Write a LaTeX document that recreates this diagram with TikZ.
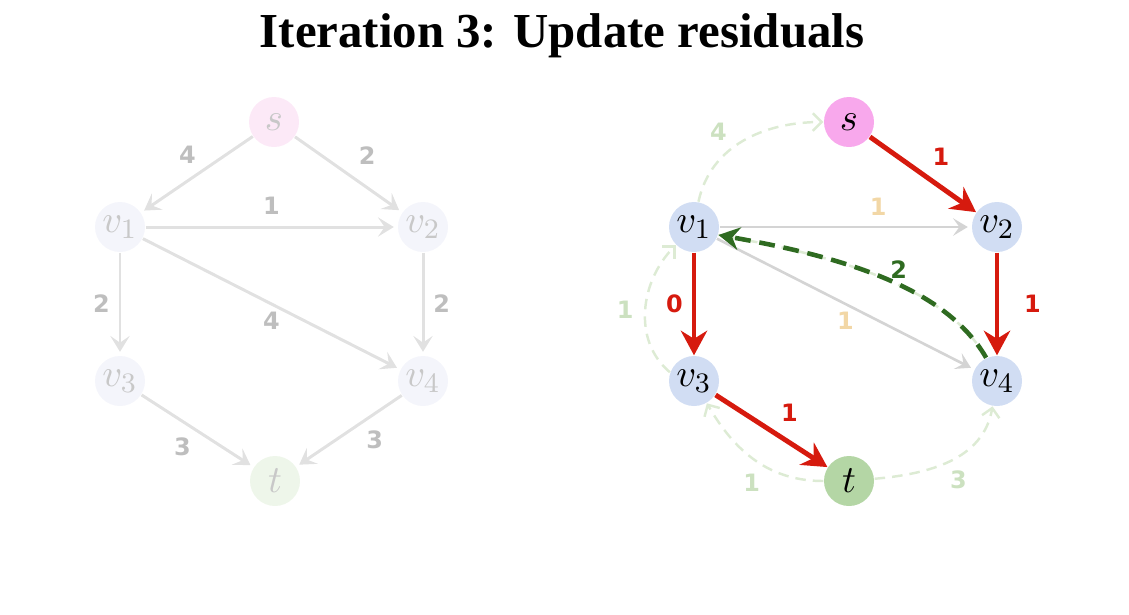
\documentclass[tikz,border=0pt]{standalone}
\usepackage{fontspec}
\setmainfont{Liberation Serif}
\newfontfamily\lblfont{DejaVu Sans}
\usetikzlibrary{arrows.meta}

\begin{document}
\begin{tikzpicture}[
  vtx/.style={circle, minimum size=0.5cm, inner sep=0pt, font=\fontsize{11}{13}\selectfont},
  lbl/.style={font=\lblfont\fontsize{6.8}{8}\selectfont\bfseries, inner sep=3pt},
  fadeedge/.style={draw=cFadeEdge, line width=0.85pt, shorten >=1pt,
    -{Stealth[length=4.5pt, width=5.5pt, inset=1.9pt]}},
  grayedge/.style={draw=cGrayEdge, line width=0.75pt, shorten >=1pt,
    -{Stealth[length=4.2pt, width=5pt, inset=1.8pt]}},
  flowedge/.style={draw=cFlow, line width=1.4pt,
    -{Stealth[length=7pt, width=7.5pt, inset=2.3pt]}},
  residedge/.style={draw=cResid, line width=0.7pt, dash pattern=on 3pt off 2pt,
    -{Straight Barb[length=2.5pt, width=5pt]}},
  augedge/.style={draw=cAug, line width=1.3pt, dash pattern=on 4.5pt off 2.5pt,
    -{Stealth[length=6pt, width=6.5pt, inset=2pt]}}
]
  % Colours for the faded left copy and the live right copy
  \definecolor{cFadeEdge}{RGB}{225, 225, 225}
  \definecolor{cFadeLbl}{RGB}{190, 190, 190}
  \definecolor{cFadeTxt}{RGB}{200, 200, 200}
  \definecolor{cFadeS}{RGB}{252, 233, 247}
  \definecolor{cFadeV}{RGB}{244, 245, 251}
  \definecolor{cFadeT}{RGB}{238, 246, 234}
  \definecolor{cS}{RGB}{248, 168, 236}
  \definecolor{cV}{RGB}{209, 221, 243}
  \definecolor{cT}{RGB}{180, 214, 165}
  \definecolor{cFlow}{RGB}{214, 26, 14}
  \definecolor{cGrayEdge}{RGB}{212, 212, 212}
  \definecolor{cTan}{RGB}{242, 215, 166}
  \definecolor{cResid}{RGB}{221, 235, 212}
  \definecolor{cResidLbl}{RGB}{204, 225, 192}
  \definecolor{cAug}{RGB}{47, 107, 33}

  % Page frame
  \useasboundingbox (0,0) rectangle (11.29,-6.14);

  % Title
  \node[font=\fontsize{13.9}{16}\selectfont\bfseries] (title) at (5.62,-0.36) {Iteration 3: Update residuals};

  % Left: faded network
  \node[vtx, fill=cFadeS, text=cFadeTxt] (ls) at (2.74,-1.22) {$s$};
  \node[vtx, fill=cFadeV, text=cFadeTxt] (l1) at (1.20,-2.27) {$v_1$};
  \node[vtx, fill=cFadeV, text=cFadeTxt] (l2) at (4.23,-2.27) {$v_2$};
  \node[vtx, fill=cFadeV, text=cFadeTxt] (l3) at (1.20,-3.81) {$v_3$};
  \node[vtx, fill=cFadeV, text=cFadeTxt] (l4) at (4.23,-3.81) {$v_4$};
  \node[vtx, fill=cFadeT, text=cFadeTxt] (lt) at (2.75,-4.81) {$t$};

  \draw[fadeedge] (ls) -- node[lbl, text=cFadeLbl, pos=0.45, above left, inner sep=1.5pt] {4} (l1);
  \draw[fadeedge] (ls) -- node[lbl, text=cFadeLbl, above right, inner sep=2.5pt] {2} (l2);
  \draw[fadeedge] (l1) -- node[lbl, text=cFadeLbl, above] {1} (l2);
  \draw[fadeedge] (l1) -- node[lbl, text=cFadeLbl, left, inner sep=2.5pt] {2} (l3);
  \draw[fadeedge] (l1) -- node[lbl, text=cFadeLbl, below, inner sep=2pt] {4} (l4);
  \draw[fadeedge] (l2) -- node[lbl, text=cFadeLbl, right, inner sep=2.5pt] {2} (l4);
  \draw[fadeedge] (l3) -- node[lbl, text=cFadeLbl, below left, inner sep=1.5pt] {3} (lt);
  \draw[fadeedge] (l4) -- node[lbl, text=cFadeLbl, pos=0.4, below right, inner sep=1.5pt] {3} (lt);

  % Right: residual network after the update
  \node[vtx, fill=cS] (rs) at (8.49,-1.22) {$s$};
  \node[vtx, fill=cV] (r1) at (6.94,-2.27) {$v_1$};
  \node[vtx, fill=cV] (r2) at (9.97,-2.27) {$v_2$};
  \node[vtx, fill=cV] (r3) at (6.94,-3.81) {$v_3$};
  \node[vtx, fill=cV] (r4) at (9.97,-3.81) {$v_4$};
  \node[vtx, fill=cT] (rt) at (8.49,-4.81) {$t$};

  % backward residual arcs
  \draw[residedge] (r1.80) to[out=78, in=180] node[lbl, text=cResidLbl, pos=0.42, above left, inner sep=1.5pt] {4} (rs);
  \draw[residedge] (r3.160) to[out=140, in=225] node[lbl, text=cResidLbl, left] {1} (r1);
  \draw[residedge] (rt) to[out=180, in=-60] node[lbl, text=cResidLbl, pos=0.4, below left, inner sep=1.5pt] {1} (r3);
  \draw[residedge] (rt) to[out=5, in=-100] node[lbl, text=cResidLbl, pos=0.45, below right, inner sep=1.5pt] {3} (r4);

  % unused forward arcs
  \draw[grayedge] (r1) -- node[lbl, text=cTan, pos=0.63, above] {1} (r2);
  \draw[grayedge] (r1) -- node[lbl, text=cTan, below, inner sep=2pt] {1} (r4);

  % augmenting path
  \draw[flowedge] (rs) -- node[lbl, text=cFlow, above right, inner sep=2pt] {1} (r2);
  \draw[flowedge] (r2) -- node[lbl, text=cFlow, right, inner sep=7pt] {1} (r4);
  \draw[flowedge] (r1) -- node[lbl, text=cFlow, left, inner sep=2.5pt] {0} (r3);
  \draw[flowedge] (r3) -- node[lbl, text=cFlow, above right, inner sep=2pt] {1} (rt);

  % new reverse arc
  \draw[residedge, -] (r4.115) .. controls +(120:0.8) and +(-10:1.3) .. (r1.-18);
  \draw[augedge] (r4.115) .. controls +(120:0.8) and +(-10:1.3) .. node[lbl, text=cAug, pos=0.45, above, inner sep=1pt] {2} (r1.-18);

\end{tikzpicture}
\end{document}
